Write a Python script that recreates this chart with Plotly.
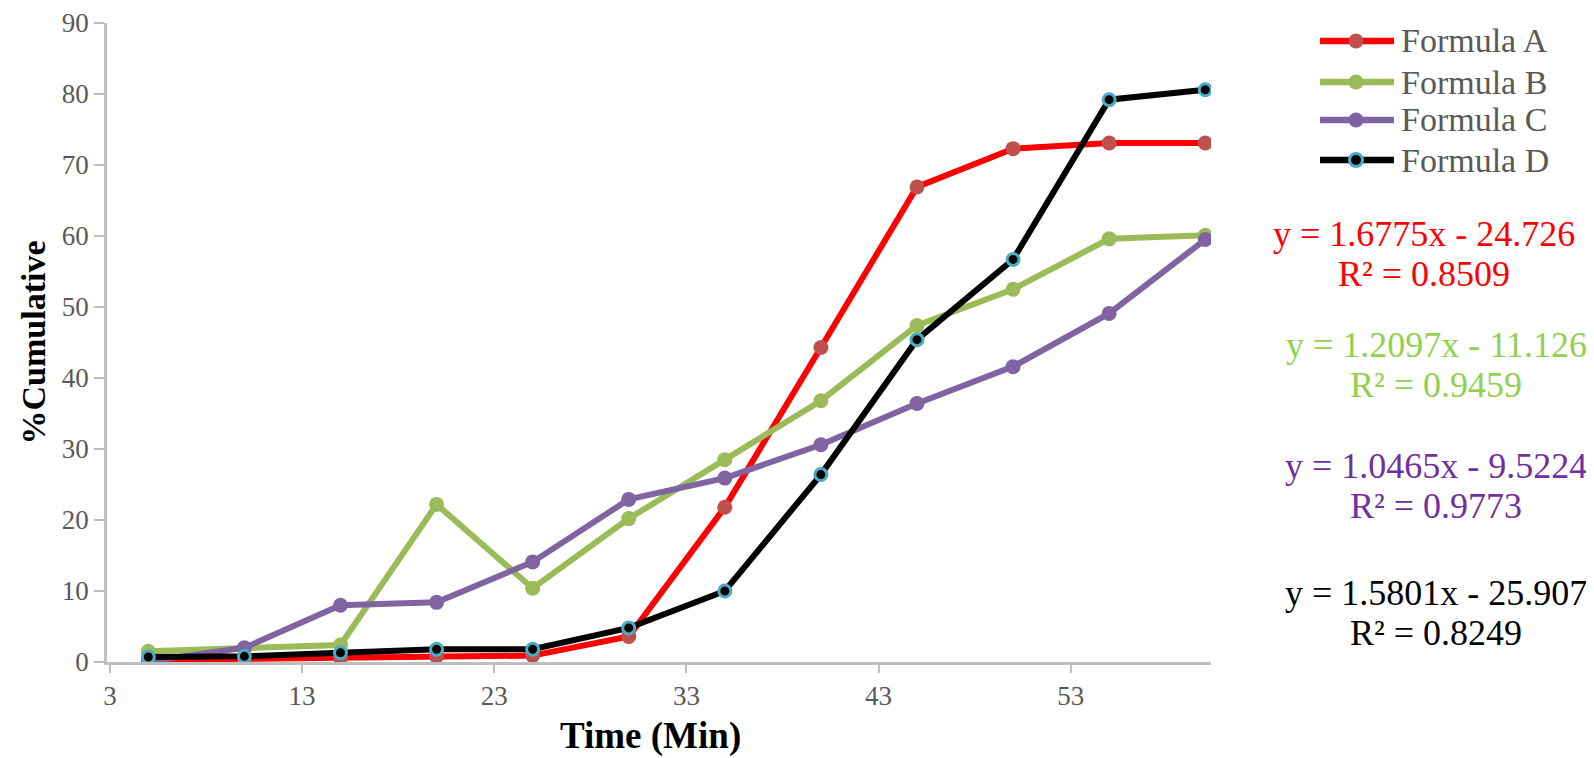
import plotly.graph_objects as go

time_min = [5, 10, 15, 20, 25, 30, 35, 40, 45, 50, 55, 60]
formula_a = [0.3, 0.4, 0.6, 0.8, 0.9, 3.6, 21.8, 44.3, 66.9, 72.3, 73.1, 73.1]
formula_b = [1.5, 1.9, 2.4, 22.2, 10.4, 20.2, 28.5, 36.8, 47.4, 52.5, 59.6, 60.1]
formula_c = [0.1, 2.0, 8.0, 8.4, 14.1, 22.9, 25.9, 30.6, 36.4, 41.6, 49.1, 59.5]
formula_d = [0.7, 0.8, 1.3, 1.8, 1.8, 4.8, 10.0, 26.4, 45.4, 56.7, 79.2, 80.6]

series_names = ["Formula A", "Formula B", "Formula C", "Formula D"]
equations = ["y = 1.6775x - 24.726", "y = 1.2097x - 11.126",
             "y = 1.0465x - 9.5224", "y = 1.5801x - 25.907"]
r_squared = ["R² = 0.8509", "R² = 0.9459", "R² = 0.9773", "R² = 0.8249"]

x_ticks = [3, 13, 23, 33, 43, 53]
y_ticks = [0, 10, 20, 30, 40, 50, 60, 70, 80, 90]

FONT = "Liberation Serif, Times New Roman, serif"
line_colors = ["#FF0000", "#9BBB59", "#8064A2", "#000000"]
marker_colors = ["#C0504D", "#9BBB59", "#8064A2", "#000000"]
eq_colors = ["#FF0000", "#92D050", "#7030A0", "#000000"]

fig = go.Figure()
for name, ys, lc, mc in zip(series_names, [formula_a, formula_b, formula_c, formula_d],
                            line_colors, marker_colors):
    if name == "Formula D":
        marker = dict(size=12, color=mc, line=dict(color="#4BACC6", width=3))
    else:
        marker = dict(size=15, color=mc, line=dict(width=0))
    fig.add_trace(go.Scatter(x=time_min, y=ys, name=name, mode="lines+markers",
                             line=dict(color=lc, width=6), marker=marker,
                             showlegend=False))

# plot area in pixels: left 99, right 1203, top 15, bottom 654
L, R, T, B = 99, 1203, 15, 654
W, H = 1594, 758

def px_x(p):
    return (p - L) / (R - L)

def px_y(p):
    return (B - p) / (B - T)

shapes = []
annotations = []
legend_y = [33, 74, 112, 152]
for i, name in enumerate(series_names):
    yy = px_y(legend_y[i])
    shapes.append(dict(type="line", xref="paper", yref="paper",
                       x0=px_x(1312), x1=px_x(1386), y0=yy, y1=yy,
                       line=dict(color=line_colors[i], width=6.5)))
    if name == "Formula D":
        shapes.append(dict(type="circle", xref="paper", yref="paper",
                           xsizemode="pixel", ysizemode="pixel",
                           xanchor=px_x(1348), yanchor=yy,
                           x0=-6.5, x1=6.5, y0=-6.5, y1=6.5,
                           fillcolor="#000000", line=dict(color="#4BACC6", width=3)))
    else:
        shapes.append(dict(type="circle", xref="paper", yref="paper",
                           xsizemode="pixel", ysizemode="pixel",
                           xanchor=px_x(1348), yanchor=yy,
                           x0=-7.5, x1=7.5, y0=-7.5, y1=7.5,
                           fillcolor=marker_colors[i], line=dict(width=0)))
    annotations.append(dict(xref="paper", yref="paper", x=px_x(1391), y=yy,
                            xanchor="left", yanchor="middle", showarrow=False,
                            text=name, font=dict(family=FONT, size=34, color="#595959")))

eq_pos = [(1416, 226, 266), (1428, 337, 377), (1428, 458, 498), (1428, 585, 625)]
for i in range(4):
    cx, y1, y2 = eq_pos[i]
    annotations.append(dict(xref="paper", yref="paper", x=px_x(cx), y=px_y(y1),
                            xanchor="center", yanchor="middle", showarrow=False,
                            text=equations[i], font=dict(family=FONT, size=36, color=eq_colors[i])))
    annotations.append(dict(xref="paper", yref="paper", x=px_x(cx), y=px_y(y2),
                            xanchor="center", yanchor="middle", showarrow=False,
                            text=r_squared[i], font=dict(family=FONT, size=36, color=eq_colors[i])))

# x-axis title
annotations.append(dict(xref="paper", yref="paper", x=px_x(642), y=px_y(728),
                        xanchor="center", yanchor="middle", showarrow=False,
                        text="<b>Time (Min)</b>",
                        font=dict(family=FONT, size=37, color="#000000")))

fig.update_layout(
    width=W, height=H,
    margin=dict(l=L, r=W - R, t=T, b=H - B, autoexpand=False),
    paper_bgcolor="white", plot_bgcolor="white",
    shapes=shapes, annotations=annotations,
    xaxis=dict(range=[2.85, 60.3], tickmode="array", tickvals=x_ticks,
               ticktext=[str(v) for v in x_ticks], automargin=False,
               showgrid=False, zeroline=False, showline=True,
               linecolor="#BFBFBF", linewidth=2.5,
               ticks="outside", ticklen=8, tickwidth=2, tickcolor="#BFBFBF",
               tickfont=dict(family=FONT, size=27, color="#595959")),
    yaxis=dict(range=[0, 90], tickmode="array", tickvals=y_ticks, automargin=False,
               showgrid=False, zeroline=False, showline=True,
               linecolor="#BFBFBF", linewidth=2.5,
               ticks="outside", ticklen=10, tickwidth=2, tickcolor="#BFBFBF",
               tickfont=dict(family=FONT, size=27, color="#595959"),
               title=dict(text="<b>%Cumulative</b>", standoff=6,
                          font=dict(family=FONT, size=34, color="#000000"))),
)

fig.write_html("out.html")
